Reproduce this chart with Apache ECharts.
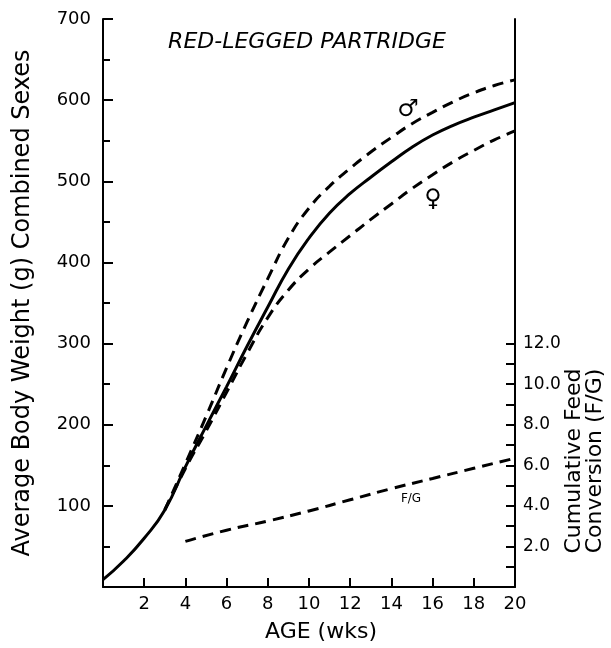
<!DOCTYPE html>
<html>
<head>
<meta charset="utf-8">
<script src="https://cdn.jsdelivr.net/npm/echarts@6/dist/echarts.min.js"></script>
<style>
html,body{margin:0;padding:0;background:#fff;}
#chart{width:611px;height:648px;}
</style>
</head>
<body>
<div id="chart"></div>
<script>
// ---- data ----
const weeks = [0,1,2,3,4,5,6,7,8,9,10,11,12,13,14,15,16,17,18,19,20];
const combined = [9,32,60,95,148,198,247,297,345,392,430,461,485,505,524,542,557,569,579,588,597];
const sexWeeks = [3,4,5,6,7,8,9,10,11,12,13,14,15,16,17,18,19,20];
const male = [95,152,210,270,327,380,430,467,494,516,536,554,571,585,598,609,618,625];
const female = [95,146,192,240,288,332,366,392,413,433,453,472,491,508,524,538,551,562];
const fgWeeks = [4,6,8,10,12,14,16,18,20];
const feedConversion = [2.25,2.8,3.25,3.75,4.3,4.85,5.35,5.85,6.35];
const xTickLabels = [2,4,6,8,10,12,14,16,18,20];
const leftTickLabels = [100,200,300,400,500,600,700];
const rightTickLabels = [2,4,6,8,10,12];
const rightTicks = [0,1,2,3,4,5,6,7,8,9,10,11,12];

const pairs = (xs, ys) => xs.map((x, i) => [x, ys[i]]);
const FONT = 'DejaVu Sans';
const axisLineStyle = {color:'#000', width:2};

const chart = echarts.init(document.getElementById('chart'));
chart.setOption({
  animation:false,
  backgroundColor:'#fff',
  grid:{left:103, right:96, top:19, bottom:61},
  xAxis:{
    type:'value', min:0, max:20, interval:2,
    axisLine:{show:true, lineStyle:axisLineStyle},
    axisTick:{show:true, inside:true, length:9, lineStyle:{color:'#000', width:2}},
    axisLabel:{
      customValues: xTickLabels,
      color:'#000', fontFamily:FONT, fontSize:18, margin:8,
      formatter: v => String(v)
    },
    splitLine:{show:false},
    name:'AGE (wks)', nameLocation:'middle', nameGap:34,
    nameTextStyle:{color:'#000', fontFamily:FONT, fontSize:22, padding:[0,0,0,24]}
  },
  yAxis:[{
    type:'value', min:0, max:700, interval:100, position:'left',
    axisLine:{show:true, lineStyle:axisLineStyle},
    axisTick:{show:true, inside:true, length:10, lineStyle:{color:'#000', width:2}},
    minorTick:{show:true, splitNumber:2, length:7, lineStyle:{color:'#000', width:2}},
    axisLabel:{
      customValues: leftTickLabels,
      color:'#000', fontFamily:FONT, fontSize:18, margin:12,
      formatter: v => String(v)
    },
    splitLine:{show:false}, minorSplitLine:{show:false},
    name:'Average Body Weight (g) Combined Sexes', nameLocation:'middle', nameGap:68,
    nameTextStyle:{color:'#000', fontFamily:FONT, fontSize:24}
  },{
    type:'value', min:0, max:28, interval:2, position:'right',
    axisLine:{show:true, lineStyle:axisLineStyle},
    axisTick:{show:true, inside:true, length:9, customValues: rightTicks, lineStyle:{color:'#000', width:2}},
    axisLabel:{
      customValues: rightTickLabels,
      color:'#000', fontFamily:FONT, fontSize:17, margin:8,
      formatter: v => v.toFixed(1)
    },
    splitLine:{show:false}
  }],
  graphic:[
    {type:'text', x:307, y:42, style:{text:'RED-LEGGED PARTRIDGE', font:'italic 22px "DejaVu Sans"', fill:'#000', textAlign:'center', textVerticalAlign:'middle'}},
    {type:'text', x:408, y:110, style:{text:'♂', font:'24px "DejaVu Sans"', fill:'#000', textAlign:'center', textVerticalAlign:'middle'}},
    {type:'text', x:433, y:200, style:{text:'♀', font:'24px "DejaVu Sans"', fill:'#000', textAlign:'center', textVerticalAlign:'middle'}},
    {type:'text', x:411, y:499, style:{text:'F/G', font:'12px "DejaVu Sans"', fill:'#000', textAlign:'center', textVerticalAlign:'middle'}},
    {type:'text', x:585, y:461, rotation:Math.PI/2, style:{text:'Cumulative Feed\nConversion (F/G)', font:'22px "DejaVu Sans"', lineHeight:21, fill:'#000', textAlign:'center', textVerticalAlign:'middle'}}
  ],
  series:[
    {type:'line', name:'Combined', data:pairs(weeks, combined), smooth:true, symbol:'none', lineStyle:{color:'#000', width:3}},
    {type:'line', name:'Male', data:pairs(sexWeeks, male), smooth:true, symbol:'none', lineStyle:{color:'#000', width:3, type:[11,7]}},
    {type:'line', name:'Female', data:pairs(sexWeeks, female), smooth:true, symbol:'none', lineStyle:{color:'#000', width:3, type:[11,7]}},
    {type:'line', name:'F/G', yAxisIndex:1, data:pairs(fgWeeks, feedConversion), smooth:true, symbol:'none', lineStyle:{color:'#000', width:3, type:[11,7]}}
  ]
});
</script>
</body>
</html>
